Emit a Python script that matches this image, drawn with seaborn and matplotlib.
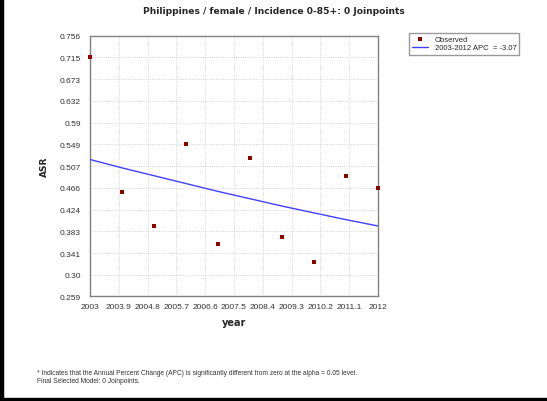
import seaborn as sns
import pandas as pd
import numpy as np
import matplotlib.pyplot as plt
from matplotlib.patches import Rectangle

# 데이터
years = [2003, 2004, 2005, 2006, 2007, 2008, 2009, 2010, 2011, 2012]
asr_observed = [0.715, 0.458, 0.393, 0.549, 0.358, 0.523, 0.372, 0.324, 0.488, 0.466]
asr_fitted = [0.520, 0.504, 0.489, 0.474, 0.459, 0.445, 0.431, 0.418, 0.405, 0.393]

x_ticks = [2003, 2003.9, 2004.8, 2005.7, 2006.6, 2007.5, 2008.4, 2009.3, 2010.2, 2011.1, 2012]
x_labels = ['2003', '2003.9', '2004.8', '2005.7', '2006.6', '2007.5', '2008.4', '2009.3', '2010.2', '2011.1', '2012']
y_ticks = [0.259, 0.30, 0.341, 0.383, 0.424, 0.466, 0.507, 0.549, 0.59, 0.632, 0.673, 0.715, 0.756]
y_labels = ['0.259', '0.30', '0.341', '0.383', '0.424', '0.466', '0.507', '0.549', '0.59', '0.632', '0.673', '0.715', '0.756']

df = pd.DataFrame({'year': years, 'observed': asr_observed, 'fitted': asr_fitted})

sns.set_style('white')
plt.rcParams['font.family'] = ['Liberation Sans', 'DejaVu Sans']

fig = plt.figure(figsize=(5.47, 4.02), dpi=100)
ax = fig.add_axes([0.1645, 0.261, 0.5265, 0.647])

sns.lineplot(data=df, x='year', y='fitted', color='#4040ff', linewidth=1.0, ax=ax,
             label='2003-2012 APC  = -3.07', zorder=3)
sns.scatterplot(data=df, x='year', y='observed', marker='s', s=8, color='#8b0000',
                edgecolor='#8b0000', linewidth=0, ax=ax, label='Observed', zorder=4, clip_on=False)

ax.set_xlim(2003, 2012)
ax.set_ylim(0.259, 0.756)
ax.set_xticks(x_ticks)
ax.set_xticklabels(x_labels)
ax.set_yticks(y_ticks)
ax.set_yticklabels(y_labels)
ax.tick_params(axis='both', labelsize=6, colors='#333333', length=3, width=0.6)
ax.tick_params(axis='x', pad=2)
ax.grid(True, linestyle=':', color='#c8c8c8', linewidth=0.6)
for sp in ax.spines.values():
    sp.set_color('#808080')
    sp.set_linewidth(1.0)

ax.set_xlabel('year', fontsize=7, fontweight='bold', family='DejaVu Sans', labelpad=5)
ax.set_ylabel('ASR', fontsize=6.5, fontweight='bold', family='DejaVu Sans', labelpad=8)

# 범례 순서: Observed 먼저
h, l = ax.get_legend_handles_labels()
ax.get_legend().remove()
leg = fig.legend([h[1], h[0]], [l[1], l[0]], loc='upper left', bbox_to_anchor=(0.74, 0.925),
                 fontsize=5.5, frameon=True, fancybox=False, edgecolor='#808080',
                 handlelength=2.2, borderpad=0.4, labelspacing=0.1, markerscale=0.9)
leg.get_frame().set_linewidth(1.0)

fig.text(0.5, 0.972, 'Philippines / female / Incidence 0-85+: 0 Joinpoints',
         ha='center', va='center', fontsize=6.6, fontweight='bold', family='DejaVu Sans')

fig.text(0.068, 0.072, '* Indicates that the Annual Percent Change (APC) is significantly different from zero at the alpha = 0.05 level.',
         fontsize=4.8, color='#333333', va='center')
fig.text(0.068, 0.052, 'Final Selected Model: 0 Joinpoints.', fontsize=4.8, color='#333333', va='center')

# 바깥 테두리 (왼쪽, 아래)
fig.patches.append(Rectangle((0, 0), 0.005, 1, transform=fig.transFigure, color='black', zorder=10))
fig.patches.append(Rectangle((0, 0), 1, 0.008, transform=fig.transFigure, color='black', zorder=10))

fig.savefig('out.png', dpi=100)
